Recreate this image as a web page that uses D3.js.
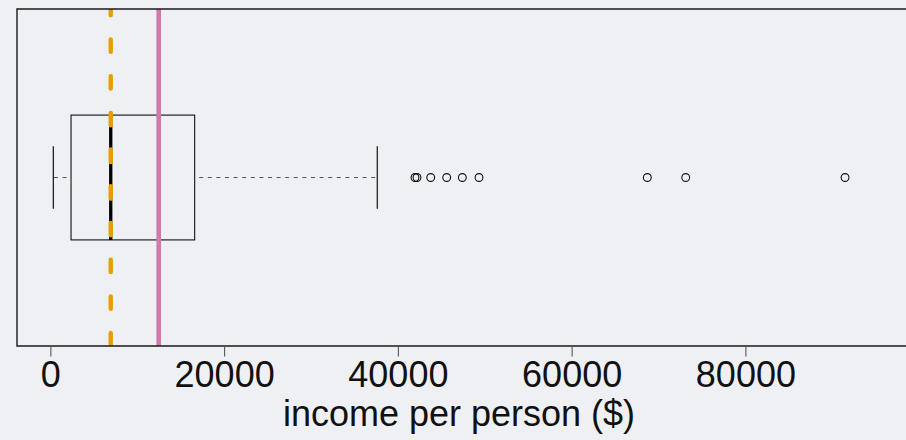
<!DOCTYPE html>
<html>
<head>
<meta charset="utf-8">
<script src="https://cdn.jsdelivr.net/npm/d3@7"></script>
<style>
  html, body { margin: 0; padding: 0; background: #eef0f4; }
  svg { display: block; }
  text { font-family: "Liberation Sans", Arial, Helvetica, sans-serif; fill: #111; }
</style>
</head>
<body>
<svg id="chart" width="906" height="440"></svg>
<script>
// Five-number summary of income per person (whisker ends, quartiles, median)
const boxStats = [340, 2380, 6950, 16610, 37630];
// Countries beyond the upper whisker
const outliers = [41970, 42200, 43780, 45620, 47420, 49340, 68710, 73130, 91470];
// Reference lines: median (dashed) and mean (solid)
const medianIncome = [6950];
const meanIncome = [12470];
const tickValues = [0, 20000, 40000, 60000, 80000];
const axisTitle = "income per person ($)";

const svg = d3.select("#chart");
const W = 906, H = 440;
const plot = { left: 17, top: 9, right: 940, bottom: 346 };

const x = d3.scaleLinear().domain([-3840, 102400]).range([plot.left, plot.right]);
const y = d3.scaleLinear().domain([0.46, 1.54]).range([plot.bottom, plot.top]);

svg.append("rect").attr("width", W).attr("height", H).attr("fill", "#eef0f4");

svg.append("defs").append("clipPath").attr("id", "plotClip")
  .append("rect")
  .attr("x", plot.left).attr("y", plot.top)
  .attr("width", plot.right - plot.left).attr("height", plot.bottom - plot.top);

const g = svg.append("g");

const [lo, q1, med, q3, hi] = boxStats;
const yc = y(1);

// whiskers (dashed)
g.append("line")
  .attr("x1", x(q3)).attr("x2", x(hi)).attr("y1", yc).attr("y2", yc)
  .attr("stroke", "#555").attr("stroke-width", 1.1)
  .attr("stroke-dasharray", "4,4.6").attr("stroke-dashoffset", -4.5);
g.append("line")
  .attr("x1", x(q1)).attr("x2", x(lo)).attr("y1", yc).attr("y2", yc)
  .attr("stroke", "#555").attr("stroke-width", 1.1)
  .attr("stroke-dasharray", "4,4.6").attr("stroke-dashoffset", -4.5);

// staples
[lo, hi].forEach(v => {
  g.append("line")
    .attr("x1", x(v)).attr("x2", x(v)).attr("y1", y(0.9)).attr("y2", y(1.1))
    .attr("stroke", "#111").attr("stroke-width", 1.2);
});

// box
g.append("rect")
  .attr("x", x(q1)).attr("y", y(1.2))
  .attr("width", x(q3) - x(q1)).attr("height", y(0.8) - y(1.2))
  .attr("fill", "none").attr("stroke", "#111").attr("stroke-width", 1.1);

// median bar
g.append("line")
  .attr("x1", x(med)).attr("x2", x(med)).attr("y1", y(1.2)).attr("y2", y(0.8))
  .attr("stroke", "#000").attr("stroke-width", 3.3);

// outliers
g.selectAll("circle.out").data(outliers).join("circle")
  .attr("class", "out")
  .attr("cx", d => x(d)).attr("cy", yc).attr("r", 3.9)
  .attr("fill", "none").attr("stroke", "#111").attr("stroke-width", 1.1);

// reference lines
const refs = svg.append("g").attr("clip-path", "url(#plotClip)");
refs.selectAll("line.mean").data(meanIncome).join("line")
  .attr("class", "mean")
  .attr("x1", d => x(d)).attr("x2", d => x(d))
  .attr("y1", plot.top).attr("y2", plot.bottom)
  .attr("stroke", "#cf7aab").attr("stroke-width", 4.6);
refs.selectAll("line.median").data(medianIncome).join("line")
  .attr("class", "median")
  .attr("x1", d => x(d)).attr("x2", d => x(d))
  .attr("y1", plot.top).attr("y2", plot.bottom)
  .attr("stroke", "#e69f00").attr("stroke-width", 4.4)
  .attr("stroke-linecap", "round")
  .attr("stroke-dasharray", "12.4,24.3").attr("stroke-dashoffset", 6.25);

// frame (left, top, bottom; right side lies beyond the canvas)
svg.append("path")
  .attr("d", `M${plot.right},${plot.top}H${plot.left}V${plot.bottom}H${plot.right}`)
  .attr("fill", "none").attr("stroke", "#1a1a1a").attr("stroke-width", 1.4);

// x axis
const axis = d3.axisBottom(x).tickValues(tickValues).tickSize(10.5).tickPadding(6)
  .tickFormat(d3.format("d"));
const ax = svg.append("g").attr("transform", `translate(0,${plot.bottom})`).call(axis);
ax.select(".domain").remove();
ax.selectAll(".tick line").attr("stroke", "#555").attr("stroke-width", 1.1);
ax.selectAll(".tick text")
  .attr("font-size", 36).attr("fill", "#111")
  .attr("font-family", "'Liberation Sans', Arial, sans-serif")
  .attr("y", 40.7).attr("dy", null);

svg.append("text")
  .attr("x", 459).attr("y", 426)
  .attr("text-anchor", "middle").attr("font-size", 36)
  .text(axisTitle);
</script>
</body>
</html>
